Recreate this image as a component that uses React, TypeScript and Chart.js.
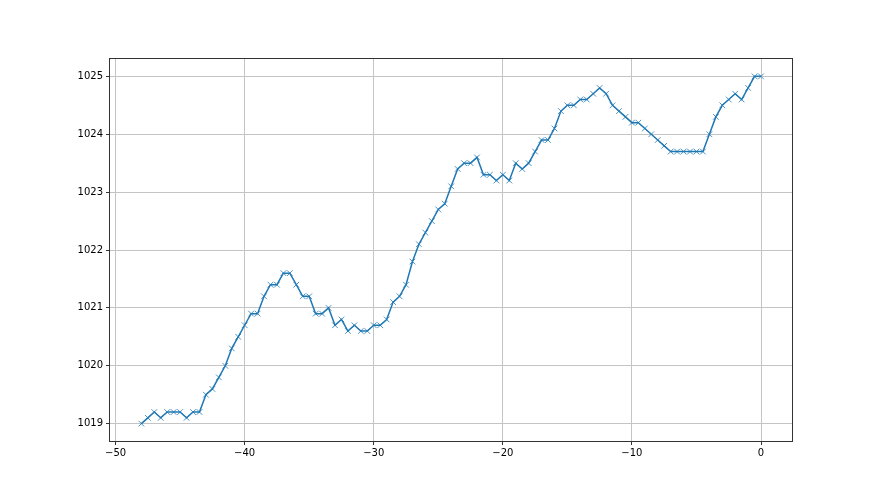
import { useEffect, useRef } from "react";
import { Chart, registerables } from "chart.js";

Chart.register(...registerables);

const hours = [
  -48, -47.5, -47, -46.5, -46, -45.5, -45, -44.5, -44, -43.5,
  -43, -42.5, -42, -41.5, -41, -40.5, -40, -39.5, -39, -38.5,
  -38, -37.5, -37, -36.5, -36, -35.5, -35, -34.5, -34, -33.5,
  -33, -32.5, -32, -31.5, -31, -30.5, -30, -29.5, -29, -28.5,
  -28, -27.5, -27, -26.5, -26, -25.5, -25, -24.5, -24, -23.5,
  -23, -22.5, -22, -21.5, -21, -20.5, -20, -19.5, -19, -18.5,
  -18, -17.5, -17, -16.5, -16, -15.5, -15, -14.5, -14, -13.5,
  -13, -12.5, -12, -11.5, -11, -10.5, -10, -9.5, -9, -8.5,
  -8, -7.5, -7, -6.5, -6, -5.5, -5, -4.5, -4, -3.5,
  -3, -2.5, -2, -1.5, -1, -0.5, 0,
];

const pressure = [
  1019.0, 1019.1, 1019.2, 1019.1, 1019.2, 1019.2, 1019.2, 1019.1, 1019.2, 1019.2,
  1019.5, 1019.6, 1019.8, 1020.0, 1020.3, 1020.5, 1020.7, 1020.9, 1020.9, 1021.2,
  1021.4, 1021.4, 1021.6, 1021.6, 1021.4, 1021.2, 1021.2, 1020.9, 1020.9, 1021.0,
  1020.7, 1020.8, 1020.6, 1020.7, 1020.6, 1020.6, 1020.7, 1020.7, 1020.8, 1021.1,
  1021.2, 1021.4, 1021.8, 1022.1, 1022.3, 1022.5, 1022.7, 1022.8, 1023.1, 1023.4,
  1023.5, 1023.5, 1023.6, 1023.3, 1023.3, 1023.2, 1023.3, 1023.2, 1023.5, 1023.4,
  1023.5, 1023.7, 1023.9, 1023.9, 1024.1, 1024.4, 1024.5, 1024.5, 1024.6, 1024.6,
  1024.7, 1024.8, 1024.7, 1024.5, 1024.4, 1024.3, 1024.2, 1024.2, 1024.1, 1024.0,
  1023.9, 1023.8, 1023.7, 1023.7, 1023.7, 1023.7, 1023.7, 1023.7, 1024.0, 1024.3,
  1024.5, 1024.6, 1024.7, 1024.6, 1024.8, 1025.0, 1025.0,
];

const xTicks = [-50, -40, -30, -20, -10, 0];
const yTicks = [1019, 1020, 1021, 1022, 1023, 1024, 1025];

const FONT = { family: "'DejaVu Sans', sans-serif", size: 10 };

const framePlugin = {
  id: "frame",
  afterDraw(chart: any) {
    const { ctx, chartArea: a } = chart;
    ctx.save();
    ctx.strokeStyle = "#333333";
    ctx.lineWidth = 1;
    ctx.strokeRect(
      Math.round(a.left) - 0.5,
      Math.round(a.top) - 0.5,
      Math.round(a.right - a.left) + 1,
      Math.round(a.bottom - a.top) + 1
    );
    ctx.restore();
  },
};

export default function App() {
  const ref = useRef<HTMLCanvasElement>(null);
  useEffect(() => {
    document.body.style.margin = "0";
    const chart = new Chart(ref.current!, {
      type: "line",
      data: {
        datasets: [
          {
            data: hours.map((x, i) => ({ x, y: pressure[i] })),
            borderColor: "#1f77b4",
            borderWidth: 1.5,
            pointStyle: "crossRot",
            pointRadius: 4,
            pointBorderColor: "#1f77b4",
            pointBackgroundColor: "#1f77b4",
            pointBorderWidth: 0.8,
            tension: 0,
            fill: false,
          },
        ],
      },
      options: {
        responsive: false,
        animation: false,
        devicePixelRatio: 1,
        layout: { padding: { left: 0, top: 59, right: 88, bottom: 0 } },
        plugins: { legend: { display: false }, tooltip: { enabled: false } },
        scales: {
          x: {
            type: "linear",
            min: -50.43,
            max: 2.4,
            afterBuildTicks: (s: any) => {
              s.ticks = xTicks.map((v) => ({ value: v }));
            },
            afterFit: (s: any) => {
              s.height = 54;
            },
            grid: {
              color: "#c4c4c4",
              lineWidth: 1,
              tickColor: "#333333",
              tickLength: 4,
              tickWidth: 1,
            },
            border: { display: false },
            ticks: {
              color: "#000000",
              font: FONT,
              padding: 2,
              maxRotation: 0,
              callback: (v: any) => String(v).replace("-", "\u2212"),
            },
          },
          y: {
            type: "linear",
            min: 1018.7,
            max: 1025.3,
            afterBuildTicks: (s: any) => {
              s.ticks = yTicks.map((v) => ({ value: v }));
            },
            afterFit: (s: any) => {
              s.width = 110;
            },
            grid: {
              color: "#c4c4c4",
              lineWidth: 1,
              tickColor: "#333333",
              tickLength: 4,
              tickWidth: 1,
            },
            border: { display: false },
            ticks: {
              color: "#000000",
              font: FONT,
              padding: 3,
              callback: (v: any) => String(v),
            },
          },
        },
      },
      plugins: [framePlugin],
    });
    return () => chart.destroy();
  }, []);
  return (
    <div style={{ position: "absolute", left: 0, top: 0, width: 880, height: 495, background: "#ffffff" }}>
      <canvas ref={ref} width={880} height={495} style={{ display: "block" }} />
    </div>
  );
}
